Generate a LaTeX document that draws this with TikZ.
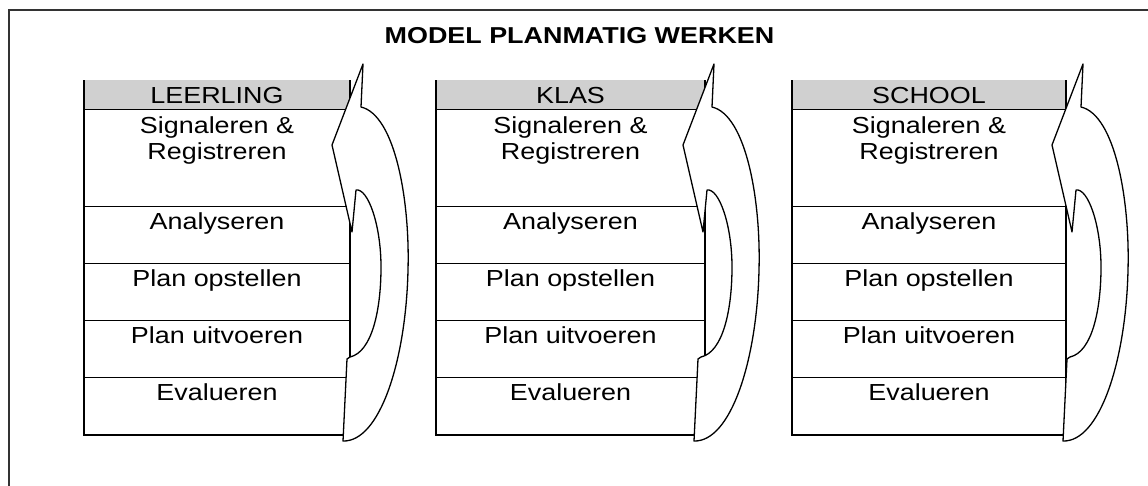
\documentclass[tikz,border=0pt]{standalone}
\usepackage{fontspec}
\newfontfamily\bodyfont[FakeStretch=1.16]{Liberation Sans}
\newfontfamily\titlefont[FakeStretch=1.17]{Liberation Sans Bold}
\definecolor{headgray}{RGB}{208,208,208}
\begin{document}
\begin{tikzpicture}[x=1pt,y=-1pt,
  lbl/.style={inner sep=0pt, anchor=base, font=\bodyfont\fontsize{23.2}{26}\selectfont},
  boxline/.style={line width=1.4pt},
  sepline/.style={line width=0.9pt},
  cyclearrow/.style={draw=black, fill=white, line width=1.3pt, line join=round},
  frameline/.style={draw=black!80, line width=1.8pt}]
\useasboundingbox (0,0) rectangle (1148,485);
\draw[frameline] (9,495) -- (9,10) -- (1155,10);
\node[inner sep=0pt, anchor=base, font=\titlefont\fontsize{23}{27}\selectfont] (title) at (579.5,43) {MODEL PLANMATIG WERKEN};
\foreach \L/\R/\S/\T/\n in {84/350/0/LEERLING/a, 436/705/351/KLAS/b, 792/1066/720/SCHOOL/c}{
  \pgfmathsetmacro{\C}{(\L+\R)/2}
  \fill[headgray] (\L,80) rectangle (\R,109);
  \foreach \yy in {109,206,263,320,377}{
    \draw[sepline] (\L,\yy) -- (\R,\yy);
  }
  \draw[boxline] (\L,80) -- (\L,435) -- (\R,435) -- (\R,80);
  \node[lbl] (\n-h) at (\C,103) {\T};
  \node[lbl] (\n-s1) at (\C,133) {Signaleren \&};
  \node[lbl] (\n-s2) at (\C,159) {Registreren};
  \node[lbl] (\n-an) at (\C,229) {Analyseren};
  \node[lbl] (\n-po) at (\C,286) {Plan opstellen};
  \node[lbl] (\n-pu) at (\C,343) {Plan uitvoeren};
  \node[lbl] (\n-ev) at (\C,400) {Evalueren};
  \begin{scope}[xshift=\S]
    \draw[cyclearrow] (343,441) -- (347,359) -- (350,357)
      .. controls (372,352) and (381,310) .. (381,267)
      .. controls (381,225) and (368,188) .. (356,190)
      -- (352,232) -- (332,145) -- (363,64) -- (361,107)
      .. controls (395,115) and (410,200) .. (408,270)
      .. controls (406,360) and (380,442) .. (343,441) -- cycle;
  \end{scope}
}
\end{tikzpicture}
\end{document}
